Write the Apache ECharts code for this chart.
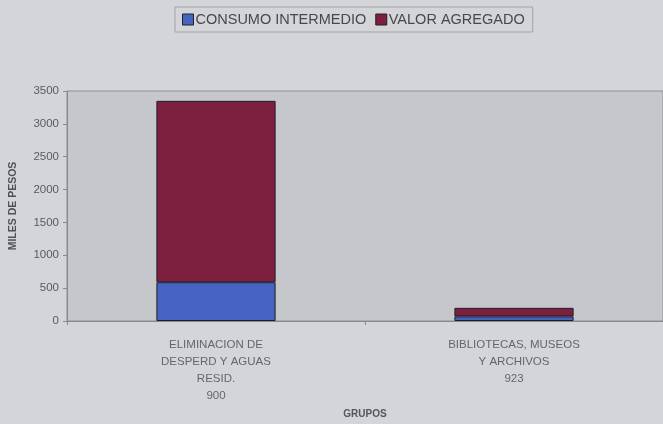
<!DOCTYPE html>
<html>
<head>
<meta charset="utf-8">
<script src="https://cdn.jsdelivr.net/npm/echarts@6/dist/echarts.min.js"></script>
<style>
  html, body { margin: 0; padding: 0; background: #d4d5d9; }
  #chart { width: 663px; height: 424px; }
</style>
</head>
<body>
<div id="chart"></div>
<script>
// categories and values
const categories = ['ELIMINACION DE\nDESPERD Y AGUAS\nRESID.\n900', 'BIBLIOTECAS, MUSEOS\nY ARCHIVOS\n923']
const consumoIntermedio = [590, 70]
const valorAgregado = [2760, 130]
const yTicks = [0, 500, 1000, 1500, 2000, 2500, 3000, 3500]

const chart = echarts.init(document.getElementById('chart'))

const option = {
  backgroundColor: '#d4d5d9',
  animation: false,
  textStyle: { fontFamily: 'Liberation Sans, Arial, sans-serif' },
  legend: {
    top: 7,
    left: 175,
    itemGap: 9,
    itemWidth: 11,
    itemHeight: 11,
    icon: 'rect',
    padding: [5, 8, 5, 7],
    borderColor: '#a2a2a6',
    borderWidth: 1,
    textStyle: { fontSize: 14.5, color: '#48484c', padding: [0, 0, 0, -3] },
    data: [
      { name: 'CONSUMO INTERMEDIO', itemStyle: { color: '#4764c2', borderColor: '#222', borderWidth: 1 } },
      { name: 'VALOR AGREGADO', itemStyle: { color: '#7d2040', borderColor: '#222', borderWidth: 1 } }
    ]
  },
  grid: {
    left: 67,
    right: -8,
    top: 91,
    bottom: 102,
    show: true,
    backgroundColor: '#c6c7cb',
    borderColor: '#8f8f93',
    borderWidth: 1
  },
  xAxis: {
    type: 'category',
    data: categories,
    name: 'GRUPOS',
    nameLocation: 'middle',
    nameGap: 88,
    nameTextStyle: { fontSize: 10, fontWeight: 'bold', color: '#55555a' },
    axisLine: { lineStyle: { color: '#8a8a8e' } },
    axisTick: { show: true, alignWithLabel: false, length: 4, lineStyle: { color: '#8a8a8e' } },
    axisLabel: { fontSize: 11.5, color: '#66666a', lineHeight: 17, margin: 15, interval: 0 }
  },
  yAxis: {
    type: 'value',
    min: 0,
    max: 3500,
    interval: 500,
    name: 'MILES DE PESOS',
    nameLocation: 'middle',
    nameGap: 48,
    nameRotate: 90,
    nameTextStyle: { fontSize: 10.5, fontWeight: 'bold', color: '#505055' },
    axisLine: { show: true, lineStyle: { color: '#8a8a8e' } },
    axisTick: { show: true, length: 4, lineStyle: { color: '#8a8a8e' } },
    splitLine: { show: false },
    axisLabel: {
      fontSize: 11.5,
      color: '#5a5a5e',
      margin: 8,
      formatter: v => (yTicks.includes(v) ? String(v) : '')
    }
  },
  series: [
    {
      name: 'CONSUMO INTERMEDIO',
      type: 'bar',
      stack: 'total',
      barWidth: '40%',
      data: consumoIntermedio,
      itemStyle: { color: '#4764c2', borderColor: '#1e1e28', borderWidth: 1 }
    },
    {
      name: 'VALOR AGREGADO',
      type: 'bar',
      stack: 'total',
      barWidth: '40%',
      data: valorAgregado,
      itemStyle: { color: '#7d2040', borderColor: '#1e1e28', borderWidth: 1 }
    }
  ]
}

option && chart.setOption(option)
</script>
</body>
</html>
